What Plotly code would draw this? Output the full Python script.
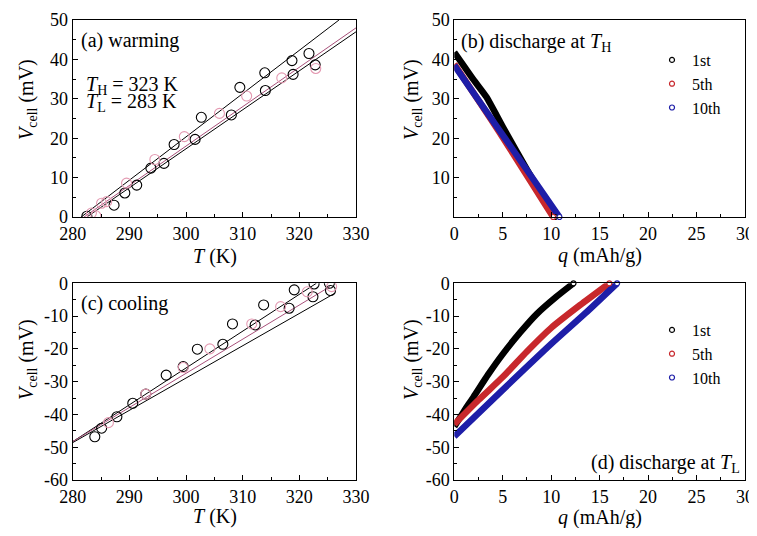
import plotly.graph_objects as go

# ---------------- data ----------------
# (a) warming: cell voltage vs temperature
a_black_T = [282.5, 287.3, 289.2, 291.3, 293.8, 296.1, 297.9, 301.6, 302.7, 308.0, 309.5, 313.9, 314.0, 318.7, 318.9, 321.7, 322.8]
a_black_V = [0.2, 3.0, 6.1, 8.1, 12.4, 13.6, 18.4, 19.7, 25.3, 25.9, 32.9, 36.6, 32.1, 39.7, 36.2, 41.5, 38.6]
a_pink_T = [283.3, 284.1, 285.1, 286.0, 289.5, 294.5, 299.7, 305.9, 310.7, 316.9, 322.9]
a_pink_V = [1.0, 0.3, 3.5, 3.9, 8.6, 14.6, 20.4, 26.3, 30.7, 35.3, 37.7]
a_fit1_T, a_fit1_V = [281.5, 327.0], [0.0, 50.0]
a_fit2_T, a_fit2_V = [282.5, 330.0], [0.0, 47.0]
a_fitp_T, a_fitp_V = [282.0, 330.0], [0.0, 48.0]

# (c) cooling
c_black_T = [283.9, 285.1, 287.8, 290.6, 292.9, 296.5, 299.5, 302.0, 306.5, 308.2, 312.2, 313.7, 318.2, 319.1, 322.4, 322.6, 325.3, 325.5]
c_black_V = [-46.8, -44.2, -40.7, -36.6, -33.8, -28.0, -25.4, -20.1, -18.6, -12.4, -12.7, -6.6, -7.6, -2.0, -4.1, -0.2, 0.0, -2.2]
c_pink_T = [286.3, 292.9, 299.5, 304.2, 311.6, 316.7, 321.4, 325.7]
c_pink_V = [-42.5, -33.8, -25.7, -20.0, -12.4, -7.1, -2.6, -1.0]
c_fit1_T, c_fit1_V = [280.0, 323.0], [-48.3, 0.0]
c_fit2_T, c_fit2_V = [280.0, 326.3], [-48.6, -3.0]
c_fitp_T, c_fitp_V = [280.0, 325.4], [-48.3, -1.0]

# (b) discharge at T_H
b1_q, b1_V = [0.0, 1.0, 2.0, 3.3, 5.0, 7.5, 10.4], [41.8, 38.3, 34.8, 30.5, 22.9, 12.0, 0.0]
b5_q, b5_V = [0.0, 5.0, 10.2], [38.8, 20.2, 0.0]
b10_q, b10_V = [0.0, 5.0, 10.85], [38.5, 20.8, 0.0]

# (d) discharge at T_L
d1_q, d1_V = [0.0, 1.0, 2.0, 3.5, 5.0, 6.8, 8.5, 10.5, 12.3], [-43.7, -39.0, -34.6, -27.8, -21.6, -15.0, -9.4, -4.2, 0.0]
d5_q, d5_V = [0.0, 2.5, 5.0, 7.5, 10.0, 13.0, 16.0], [-43.0, -35.6, -28.6, -20.8, -13.6, -6.6, 0.0]
d10_q, d10_V = [0.0, 5.0, 10.0, 13.5, 16.8], [-46.7, -32.5, -18.5, -9.2, 0.0]

cycle_names = ["1st", "5th", "10th"]
T_ticks = [280, 290, 300, 310, 320, 330]
q_ticks = [0, 5, 10, 15, 20, 25, 30]
Vw_ticks = [0, 10, 20, 30, 40, 50]
Vb_ticks = [10, 20, 30, 40, 50]
Vc_ticks = [0, -10, -20, -30, -40, -50, -60]

# ---------------- styling ----------------
FONT = "Liberation Serif"
OFF = 8                      # page body margin of the html page
W, H = 757 - OFF, 536 - 2 * OFF
BLACK = "#000000"
PINK = "#e49ab2"
PINKLINE = "#a8507a"
RED = "#c8282c"
BLUE = "#1e1ea8"
CYC_COLORS = [BLACK, RED, BLUE]

fig = go.Figure()

def circles(x, y, color, xa, ya):
    fig.add_trace(go.Scatter(x=x, y=y, mode="markers", xaxis=xa, yaxis=ya, showlegend=False,
                             marker=dict(symbol="circle", size=10, color="rgba(255,255,255,0)",
                                         line=dict(color=color, width=1.1)), cliponaxis=True))

def fitline(x, y, color, xa, ya):
    fig.add_trace(go.Scatter(x=x, y=y, mode="lines", xaxis=xa, yaxis=ya, showlegend=False,
                             line=dict(color=color, width=1)))

# (a)
fitline(a_fit1_T, a_fit1_V, BLACK, "x", "y")
fitline(a_fit2_T, a_fit2_V, BLACK, "x", "y")
fitline(a_fitp_T, a_fitp_V, PINKLINE, "x", "y")
circles(a_black_T, a_black_V, BLACK, "x", "y")
circles(a_pink_T, a_pink_V, PINK, "x", "y")

# (c)
fitline(c_fit1_T, c_fit1_V, BLACK, "x3", "y3")
fitline(c_fit2_T, c_fit2_V, BLACK, "x3", "y3")
fitline(c_fitp_T, c_fitp_V, PINKLINE, "x3", "y3")
circles(c_black_T, c_black_V, BLACK, "x3", "y3")
circles(c_pink_T, c_pink_V, PINK, "x3", "y3")

# (b) and (d) discharge curves
for curves, xa, ya, leg in [([(b1_q, b1_V), (b5_q, b5_V), (b10_q, b10_V)], "x2", "y2", "legend"),
                            ([(d1_q, d1_V), (d5_q, d5_V), (d10_q, d10_V)], "x4", "y4", "legend2")]:
    for (q, v), col in zip(curves, CYC_COLORS):
        fig.add_trace(go.Scatter(x=q, y=v, mode="lines", xaxis=xa, yaxis=ya, showlegend=False,
                                 line=dict(color=col, width=6.5, shape="spline", smoothing=0.6),
                                 cliponaxis=False))
    for (q, v), col, name in zip(curves, CYC_COLORS, cycle_names):
        fig.add_trace(go.Scatter(x=[q[-1]], y=[v[-1]], mode="markers", xaxis=xa, yaxis=ya,
                                 name=name, legend=leg, cliponaxis=False,
                                 marker=dict(symbol="circle", size=5, color="white",
                                             line=dict(color=col, width=1.2))))

# ---------------- axes (positions given in page pixels) ----------------
def px2x(p):
    return (p - OFF) / W

def px2y(p):
    return 1 - (p - OFF) / H

xdomL = [px2x(72.7), px2x(356)]
xdomR = [px2x(454.3), px2x(745)]
ydomT = [px2y(217), px2y(20)]
ydomB = [px2y(480), px2y(283.3)]

def axis(domain, rng, ticks, minor, anchor):
    return dict(domain=domain, range=rng, anchor=anchor, tickmode="array", tickvals=ticks,
                ticktext=[str(t) for t in ticks], ticks="inside", ticklen=5, tickwidth=1,
                tickcolor=BLACK, showline=True, linecolor=BLACK, linewidth=1, mirror=True,
                showgrid=False, zeroline=False, automargin=False, ticklabeloverflow="allow",
                tickfont=dict(family=FONT, size=18, color=BLACK),
                minor=dict(ticks="inside", ticklen=3, tickcolor=BLACK, dtick=minor, showgrid=False))

fig.update_layout(
    width=W, height=H, margin=dict(l=0, r=0, t=0, b=0),
    paper_bgcolor="white", plot_bgcolor="white",
    font=dict(family=FONT, size=17, color=BLACK),
    xaxis=axis(xdomL, [280, 330], T_ticks, 5, "y"),
    yaxis=axis(ydomT, [0, 50], Vw_ticks, 5, "x"),
    xaxis2=axis(xdomR, [0, 30], q_ticks, 2.5, "y2"),
    yaxis2=axis(ydomT, [0, 50], Vb_ticks, 5, "x2"),
    xaxis3=axis(xdomL, [280, 330], T_ticks, 5, "y3"),
    yaxis3=axis(ydomB, [-60, 0], Vc_ticks, 5, "x3"),
    xaxis4=axis(xdomR, [0, 30], q_ticks, 2.5, "y4"),
    yaxis4=axis(ydomB, [-60, 0], Vc_ticks, 5, "x4"),
    legend=dict(x=px2x(652), y=px2y(43), xanchor="left", yanchor="top", bgcolor="rgba(0,0,0,0)",
                font=dict(family=FONT, size=16, color=BLACK), tracegroupgap=0, itemwidth=30),
    legend2=dict(x=px2x(652), y=px2y(313), xanchor="left", yanchor="top", bgcolor="rgba(0,0,0,0)",
                 font=dict(family=FONT, size=16, color=BLACK), tracegroupgap=0, itemwidth=30),
    showlegend=True,
)

def ann(text, x, y, xanchor="left", size=20, angle=0):
    fig.add_annotation(text=text, x=px2x(x), y=px2y(y), xref="paper", yref="paper",
                       xanchor=xanchor, yanchor="middle", showarrow=False, textangle=angle,
                       font=dict(family=FONT, size=size, color=BLACK))

ann("(a) warming", 79, 40)
ann("<i>T</i><sub>H</sub> = 323 K", 84, 85)
ann("<i>T</i><sub>L</sub> = 283 K", 84, 102)
ann("(b) discharge at <i>T</i><sub>H</sub>", 459, 43)
ann("(c) cooling", 79, 303)
ann("(d) discharge at <i>T</i><sub>L</sub>", 742, 463, xanchor="right")

ann("<i>T</i> (K)", 215, 256, xanchor="center")
ann("<i>T</i> (K)", 215, 516, xanchor="center")
ann("<i>q</i> (mAh/g)", 600, 255, xanchor="center")
ann("<i>q</i> (mAh/g)", 600, 517, xanchor="center")
ylab = "<i>V</i><sub>cell</sub> (mV)"
ann(ylab, 27, 100, xanchor="center", angle=-90)
ann(ylab, 412, 100, xanchor="center", angle=-90)
ann(ylab, 27, 360, xanchor="center", angle=-90)
ann(ylab, 412, 360, xanchor="center", angle=-90)

fig.write_html("out.html")
